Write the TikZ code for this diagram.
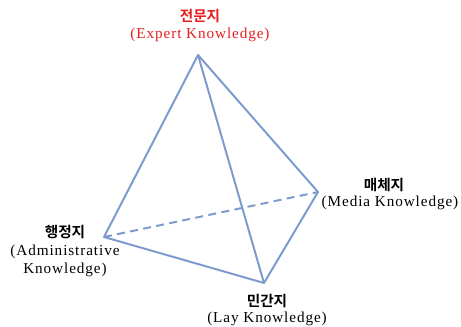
\documentclass[tikz,border=0pt]{standalone}
\usepackage{fontspec}
\setmainfont[LetterSpace=6]{Liberation Serif}
\newfontfamily\krfont[BoldFont={Noto Sans CJK KR Bold}]{Noto Sans CJK KR}
\definecolor{edgeblue}{RGB}{125,155,205}
\definecolor{titlered}{RGB}{230,30,30}
\begin{document}
\begin{tikzpicture}[x=0.75pt,y=-0.75pt,
  edge/.style={draw=edgeblue,line width=1.5pt,line join=round},
  kr/.style={font=\krfont\bfseries\fontsize{11}{12}\selectfont,inner sep=0pt},
  en/.style={font=\fontsize{11.4}{13}\selectfont,inner sep=0pt,align=center}]
\useasboundingbox (0,0) rectangle (461,327);
\coordinate (T) at (198,55);
\coordinate (R) at (318,192);
\coordinate (L) at (104,237);
\coordinate (B) at (264,283);
\draw[edge] (L) -- (T) -- (R) -- (B) -- cycle;
\draw[edge] (T) -- (B);
\draw[edge,dash pattern=on 6pt off 4pt] (L) -- (R);
\node[kr,text=titlered] (tk) at (200,16) {전문지};
\node[en,text=titlered] (te) at (200,35) {(Expert Knowledge)};
\node[kr] (lk) at (65,232) {행정지};
\node[en] (le) at (65,261) {(Administrative\\[1pt]Knowledge)};
\node[kr] (rk) at (384,185) {매체지};
\node[en] (re) at (390,203) {(Media Knowledge)};
\node[kr] (bk) at (267,301) {민간지};
\node[en] (be) at (267,319) {(Lay Knowledge)};
\end{tikzpicture}
\end{document}
